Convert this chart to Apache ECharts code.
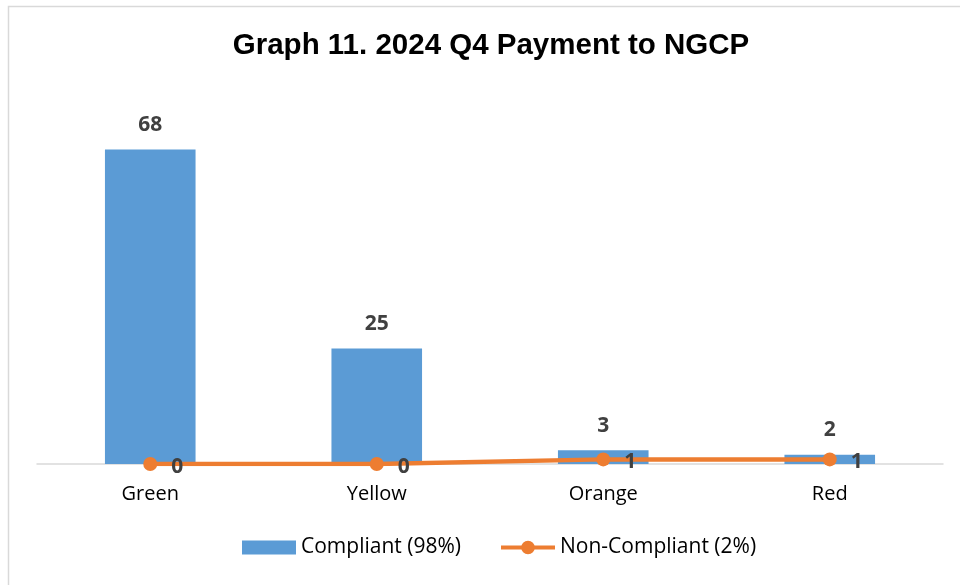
<!DOCTYPE html>
<html>
<head>
<meta charset="utf-8">
<script src="https://cdn.jsdelivr.net/npm/echarts@6/dist/echarts.min.js"></script>
<style>
  html, body { margin: 0; padding: 0; background: #fff; }
  #chart { width: 960px; height: 585px; }
</style>
</head>
<body>
<div id="chart"></div>
<script>
// 数据
var categories = ['Green', 'Yellow', 'Orange', 'Red'];
var compliant = [68, 25, 3, 2];
var nonCompliant = [0, 0, 1, 1];
var seriesNames = ['Compliant (98%)', 'Non-Compliant (2%)'];

var labelFont = '"Open Sans", "Noto Sans", sans-serif';
// 图例里的折线图标：粗线 + 圆点
var lineIcon = 'path://M0,5 H55 V9 H0 Z M20.5,7 A7,7 0 1,1 34.5,7 A7,7 0 1,1 20.5,7 Z';

var chart = echarts.init(document.getElementById('chart'));

var option = {
    animation: false,
    color: ['#5B9BD5', '#ED7D31'],
    title: {
        text: 'Graph 11. 2024 Q4 Payment to NGCP',
        left: 486,
        textAlign: 'center',
        top: 26,
        textStyle: {
            fontFamily: '"Liberation Sans", Arial, sans-serif',
            fontWeight: 'bold',
            fontSize: 29.5,
            color: '#000'
        }
    },
    graphic: [{
        // 外框
        type: 'rect',
        shape: { x: 8.5, y: 6.5, width: 1000, height: 700 },
        style: { fill: null, stroke: '#d9d9d9', lineWidth: 1.5 },
        silent: true
    }],
    legend: {
        bottom: 22,
        left: 237,
        itemGap: 40,
        itemWidth: 54,
        itemHeight: 14,
        textStyle: {
            fontFamily: labelFont,
            fontSize: 21,
            color: '#000'
        },
        data: [
            { name: seriesNames[0], icon: 'rect' },
            { name: seriesNames[1], icon: lineIcon }
        ]
    },
    grid: {
        left: 37,
        right: 17,
        top: 94,
        bottom: 121,
        containLabel: false
    },
    xAxis: {
        type: 'category',
        data: categories,
        axisLine: { lineStyle: { color: '#d9d9d9', width: 1.5 } },
        axisTick: { show: false },
        axisLabel: {
            margin: 20,
            fontFamily: labelFont,
            fontSize: 20,
            color: '#000'
        }
    },
    yAxis: {
        type: 'value',
        min: 0,
        max: 80,
        show: false,
        splitLine: { show: false }
    },
    series: [{
        name: seriesNames[0],
        type: 'bar',
        data: compliant,
        barWidth: '40%',
        label: {
            show: true,
            position: 'top',
            distance: 14,
            fontFamily: labelFont,
            fontWeight: 'bold',
            fontSize: 21,
            color: '#404040'
        }
    }, {
        name: seriesNames[1],
        type: 'line',
        data: nonCompliant,
        symbol: 'circle',
        symbolSize: 14,
        lineStyle: { width: 4.5 },
        label: {
            show: true,
            position: 'right',
            distance: 14,
            offset: [0, 3],
            fontFamily: labelFont,
            fontWeight: 'bold',
            fontSize: 21,
            color: '#404040'
        },
        z: 3
    }]
};

chart.setOption(option);
</script>
</body>
</html>
